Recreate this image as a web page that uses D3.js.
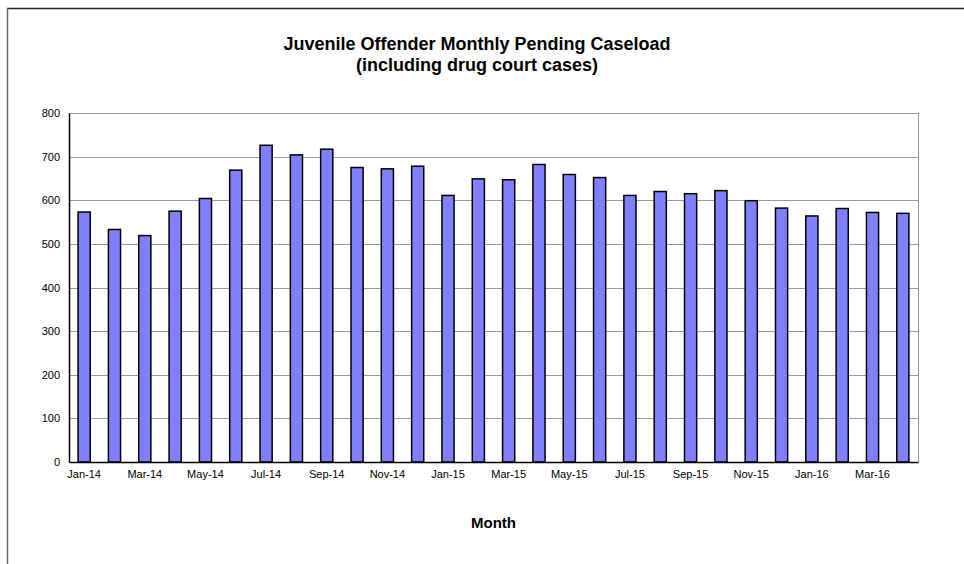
<!DOCTYPE html>
<html>
<head>
<meta charset="utf-8">
<script src="https://cdn.jsdelivr.net/npm/d3@7/dist/d3.min.js"></script>
<style>
html,body{margin:0;padding:0;background:#fff;}
svg{display:block;}
text{font-family:"Liberation Sans",Arial,sans-serif;fill:#000;}
</style>
</head>
<body>
<svg id="chart" width="964" height="564"></svg>
<script>
const months = ["Jan-14","Feb-14","Mar-14","Apr-14","May-14","Jun-14","Jul-14","Aug-14","Sep-14","Oct-14","Nov-14","Dec-14",
  "Jan-15","Feb-15","Mar-15","Apr-15","May-15","Jun-15","Jul-15","Aug-15","Sep-15","Oct-15","Nov-15","Dec-15",
  "Jan-16","Feb-16","Mar-16","Apr-16"];
const caseload = [573,533,519,575,604,669,726,704,717,675,672,678,
  611,649,647,682,659,652,611,620,615,622,599,582,564,581,572,570];
const yTicks = [0,100,200,300,400,500,600,700,800];
const titleLines = ["Juvenile Offender Monthly Pending Caseload","(including drug court cases)"];
const xTitle = "Month";

const svg = d3.select("#chart");
const m = {left:69, top:113, right:918, bottom:462};

// outer frame (top and left edges visible)
svg.append("line").attr("x1",7).attr("x2",964).attr("y1",8.5).attr("y2",8.5)
  .attr("stroke","#222").attr("stroke-width",1.5);
svg.append("line").attr("x1",7.5).attr("x2",7.5).attr("y1",8).attr("y2",564)
  .attr("stroke","#666").attr("stroke-width",1.5);

const x = d3.scaleBand().domain(months).range([m.left,m.right]).paddingInner(0.6).paddingOuter(0.3);
const y = d3.scaleLinear().domain([0,800]).range([m.bottom,m.top]);

// gridlines
svg.append("g").selectAll("line").data(yTicks.filter(d=>d>0)).join("line")
  .attr("x1",m.left).attr("x2",m.right)
  .attr("y1",d=>Math.round(y(d))+0.5).attr("y2",d=>Math.round(y(d))+0.5)
  .attr("stroke","#999").attr("stroke-width",1);
// right border
svg.append("line").attr("x1",m.right+0.5).attr("x2",m.right+0.5).attr("y1",m.top).attr("y2",m.bottom)
  .attr("stroke","#999").attr("stroke-width",1);

// bars
svg.append("g").selectAll("rect").data(caseload).join("rect")
  .attr("x",(d,i)=>x(months[i]))
  .attr("width",x.bandwidth())
  .attr("y",d=>y(d))
  .attr("height",d=>y(0)-y(d))
  .attr("fill","#8080FF").attr("stroke","#000").attr("stroke-width",1.5);

// axes
const yAxis = d3.axisLeft(y).tickValues(yTicks).tickSize(0).tickPadding(9);
const gy = svg.append("g").attr("transform",`translate(${m.left},0)`).call(yAxis);
gy.select(".domain").attr("stroke","#000").attr("stroke-width",1.5);
gy.selectAll("text").attr("font-size",11).attr("font-family","Liberation Sans, Arial, sans-serif");

const xAxis = d3.axisBottom(x).tickValues(months.filter((d,i)=>i%2===0)).tickSize(0).tickPadding(8).tickSizeOuter(0);
const gx = svg.append("g").attr("transform",`translate(0,${m.bottom})`).call(xAxis);
gx.select(".domain").attr("stroke","#000").attr("stroke-width",1.5);
gx.selectAll("text").attr("font-size",11).attr("font-family","Liberation Sans, Arial, sans-serif");

// titles
svg.append("g").selectAll("text").data(titleLines).join("text")
  .attr("x",477).attr("y",(d,i)=>50+i*21)
  .attr("text-anchor","middle").attr("font-size",18).attr("font-weight","bold")
  .text(d=>d);
svg.append("text").attr("x",(m.left+m.right)/2).attr("y",528)
  .attr("text-anchor","middle").attr("font-size",15).attr("font-weight","bold").text(xTitle);
</script>
</body>
</html>
